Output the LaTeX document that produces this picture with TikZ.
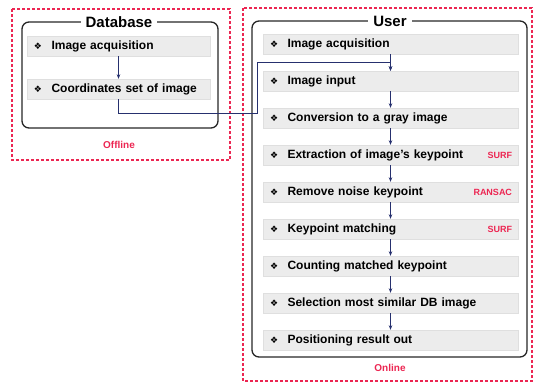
\documentclass[tikz,border=0pt]{standalone}
\usepackage{fontspec}
\setmainfont{Liberation Sans}
\newfontfamily\symfont{DejaVu Sans}
\usetikzlibrary{arrows.meta, positioning}
\usepackage{xcolor}
\definecolor{zoneRed}{RGB}{236,38,82}
\definecolor{flowBlue}{RGB}{38,48,110}
\definecolor{rowGray}{RGB}{236,236,236}
\newcommand{\bul}{{\symfont\fontsize{9}{10}\selectfont ❖}\hspace{9.5pt}}

\tikzset{
  row/.style={fill=rowGray, draw=gray!25, minimum height=20pt, inner xsep=7pt, align=left,
    font=\bfseries\fontsize{12}{14}\selectfont},
  userrow/.style={row, text width=241pt},
  dbrow/.style={row, text width=169pt},
  title/.style={fill=white, inner xsep=5pt, font=\bfseries\fontsize{15}{18}\selectfont},
  tag/.style={text=zoneRed, inner sep=0pt, font=\bfseries\fontsize{9}{10}\selectfont},
  zone/.style={draw=zoneRed, line width=1.1pt, dash pattern=on 3pt off 2pt},
  group/.style={draw=black!85, line width=1.3pt, rounded corners=7pt},
  flow/.style={flowBlue, line width=0.9pt, -{Stealth[length=4.5pt,width=3.5pt]}}
}

\begin{document}
\begin{tikzpicture}[x=1pt, y=-1pt]
  \useasboundingbox (0,0) rectangle (536,383);
  % offline / online zones
  \draw[zone] (12,9) rectangle (230,160);
  \draw[zone] (243,8) rectangle (532,381);
  \node[tag, font=\bfseries\fontsize{10}{12}\selectfont] (offline) at (119,145) {Offline};
  \node[tag, font=\bfseries\fontsize{10}{12}\selectfont] (online) at (390,368) {Online};

  % database side
  \draw[group] (22,22) rectangle (218,128);
  \node[title] (dbtitle) at (119,22) {Database};
  \node[dbrow] (db1) at (118.5,46) {\bul Image acquisition};
  \node[dbrow] (db2) at (118.5,89) {\bul Coordinates set of image};
  \draw[flow] (db1.south) -- (db2.north);

  % user side
  \draw[group] (252,21) rectangle (527,357);
  \node[title] (usertitle) at (390,21) {User};
  \foreach \t [count=\i] in {Image acquisition, Image input, Conversion to a gray image,
      Extraction of image's keypoint, Remove noise keypoint, Keypoint matching,
      Counting matched keypoint, Selection most similar DB image, Positioning result out}
    \node[userrow] (u\i) at (390.5,{7+37*\i}) {\bul \t};
  \foreach \i [evaluate=\i as \j using int(\i+1)] in {1,...,8}
    \draw[flow] (u\i.south) -- (u\j.north);

  % methods
  \node[tag, left=6pt of u4.east] (surfA) {SURF};
  \node[tag, left=6pt of u5.east] (ransac) {RANSAC};
  \node[tag, left=6pt of u6.east] (surfB) {SURF};

  % database into user flow
  \coordinate (turnA) at (257,113);
  \coordinate (turnB) at (257,62);
  \draw[flow] (db2.south) |- (turnA) -- (turnB) -| (u2.north);
\end{tikzpicture}
\end{document}
